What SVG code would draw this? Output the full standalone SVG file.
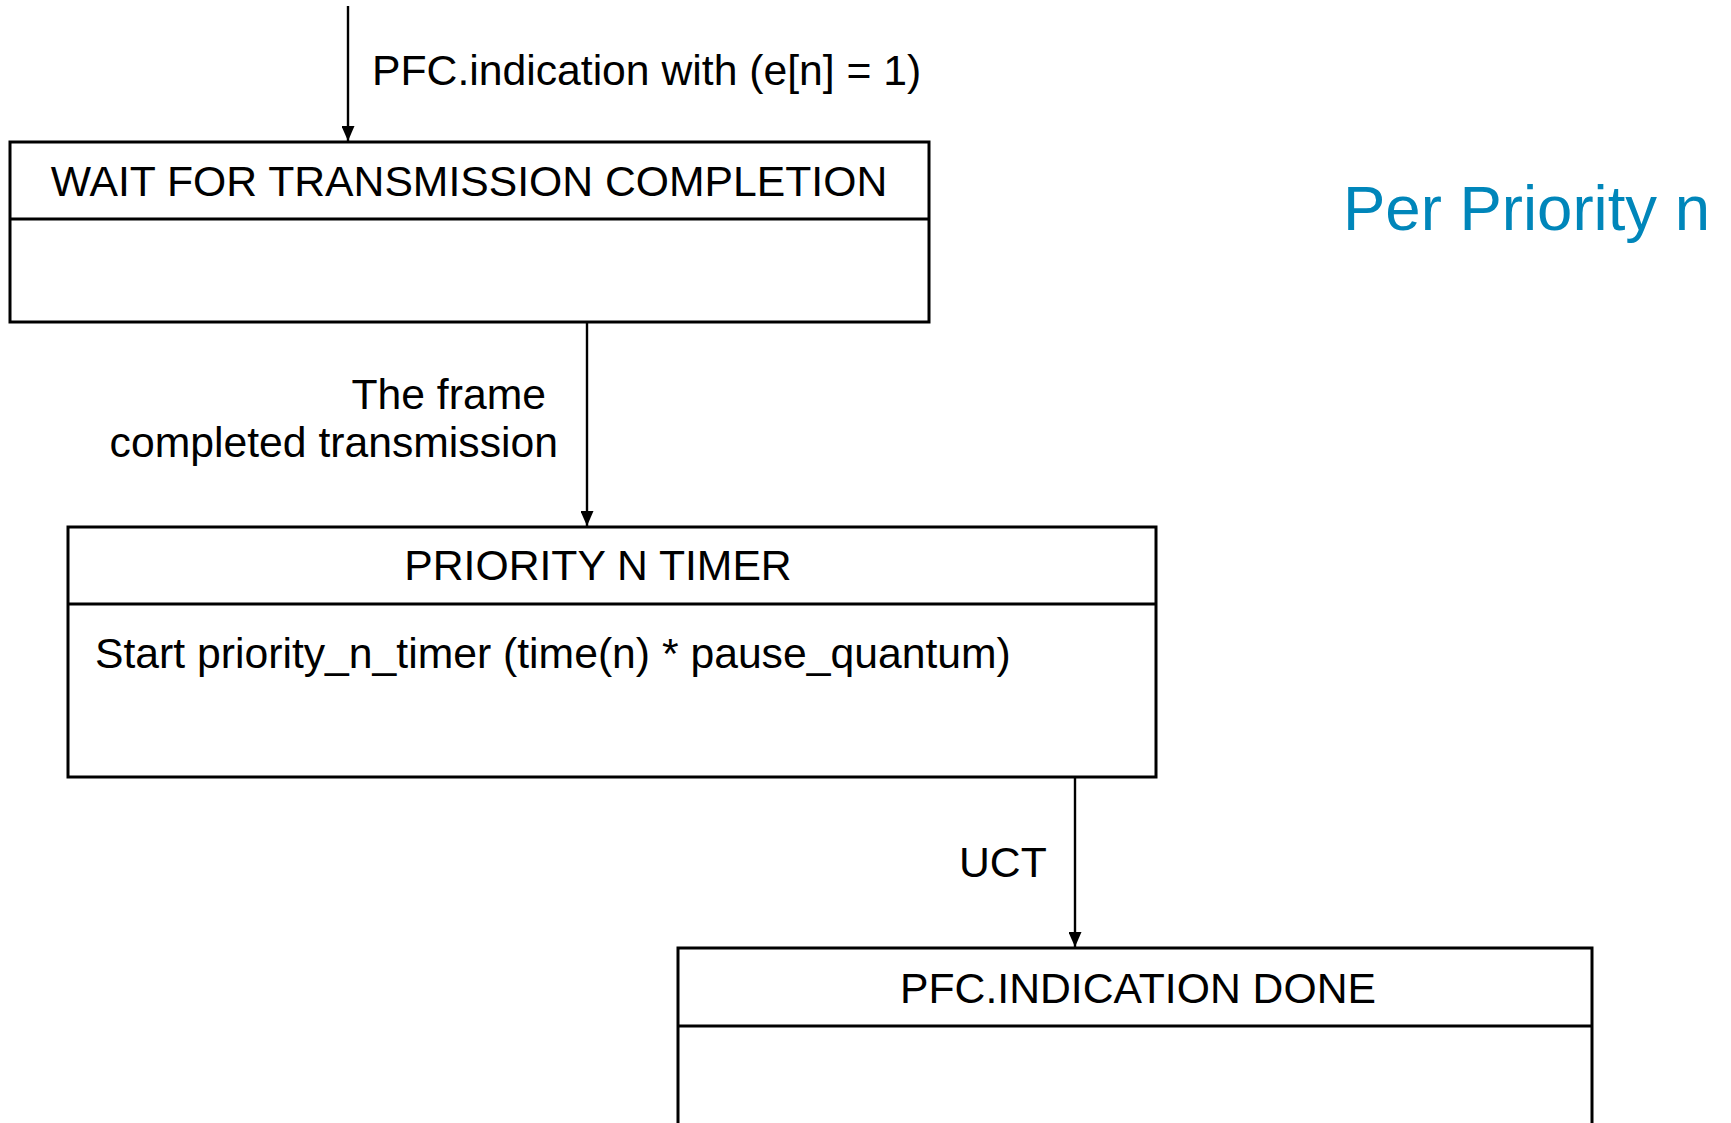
<svg xmlns="http://www.w3.org/2000/svg" width="1731" height="1123" viewBox="0 0 1731 1123">
<style>
.box{fill:#fff;stroke:#000;stroke-width:3}
.div{stroke:#000;stroke-width:3}
.t{font-family:"Liberation Sans",Arial,sans-serif;font-size:42.7px;fill:#000}
.c{stroke:#000;stroke-width:2.4;fill:none;marker-end:url(#ah)}
.blue{font-family:"Liberation Sans",Arial,sans-serif;font-size:63.5px;fill:#0086BA}
</style>
<defs>
<marker id="ah" markerWidth="15" markerHeight="13" refX="15" refY="6.5" orient="auto" markerUnits="userSpaceOnUse">
<path d="M0,0 L15,6.5 L0,13 Z" fill="#000"/>
</marker>
</defs>
<rect width="1731" height="1123" fill="#fff"/>
<g id="connectors">
<line class="c" x1="348" y1="6" x2="348" y2="141"/>
<line class="c" x1="587" y1="322" x2="587" y2="526"/>
<line class="c" x1="1075" y1="778" x2="1075" y2="947"/>
<text class="t" x="372" y="85">PFC.indication with (e[n] = 1)</text>
<text class="t" x="546" y="409" text-anchor="end">The frame</text>
<text class="t" x="558" y="457" text-anchor="end">completed transmission</text>
<text class="t" x="959" y="877">UCT</text>
</g>
<g id="wait">
<rect class="box" x="10" y="142" width="919" height="180"/>
<line class="div" x1="10" y1="219" x2="929" y2="219"/>
<text class="t" x="469" y="196" text-anchor="middle">WAIT FOR TRANSMISSION COMPLETION</text>
</g>
<g id="timer">
<rect class="box" x="68" y="527" width="1088" height="250"/>
<line class="div" x1="68" y1="604" x2="1156" y2="604"/>
<text class="t" x="598" y="580" text-anchor="middle">PRIORITY N TIMER</text>
<text class="t" x="95" y="668">Start priority_n_timer (time(n) * pause_quantum)</text>
</g>
<g id="done">
<rect class="box" x="678" y="948" width="914" height="200"/>
<line class="div" x1="678" y1="1026" x2="1592" y2="1026"/>
<text class="t" x="1138" y="1003" text-anchor="middle">PFC.INDICATION DONE</text>
</g>
<text class="blue" x="1343" y="230">Per Priority n</text>
</svg>
